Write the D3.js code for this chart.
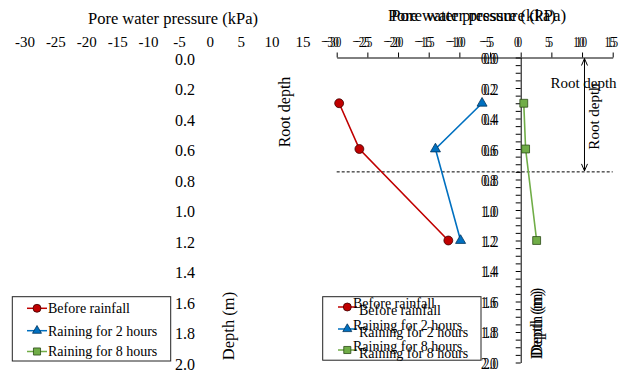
<!DOCTYPE html>
<html>
<head>
<meta charset="utf-8">
<script src="https://cdn.jsdelivr.net/npm/d3@7"></script>
<style>
  html, body { margin: 0; padding: 0; background: #fff; }
  svg { display: block; }
</style>
</head>
<body>
<svg id="chart" width="629" height="371" font-family="'Liberation Serif', 'Times New Roman', 'DejaVu Serif', serif"></svg>
<script>
// ---- data ----
const depths = [0.3, 0.6, 1.2];                 // m
const beforeRainfall = [-29.6, -26.3, -11.8];   // kPa
const raining2h = [-6.3, -13.9, -9.8];          // kPa
const raining8h = [0.5, 0.8, 2.6];              // kPa
const seriesNames = ["Before rainfall", "Raining for 2 hours", "Raining for 8 hours"];
const xTickValues = [-30, -25, -20, -15, -10, -5, 0, 5, 10, 15];
const xTickLabels = ["-30", "-25", "-20", "-15", "-10", "-5", "0", "5", "10", "15"];
const yTickValues = [0, 0.2, 0.4, 0.6, 0.8, 1.0, 1.2, 1.4, 1.6, 1.8, 2.0];
const yTickLabels = ["0.0", "0.2", "0.4", "0.6", "0.8", "1.0", "1.2", "1.4", "1.6", "1.8", "2.0"];
const rootDepth = 0.75;      // m
const rootArrowX = 10.4;     // kPa, position of the root-depth arrow
const xTitle = "Pore water pressure (kPa)";
const yTitle = "Depth (m)";
const rootLabel = "Root depth";

const FONT = "'Liberation Serif', 'Times New Roman', 'DejaVu Serif', serif";

const series = [
  { name: seriesNames[0], values: beforeRainfall, color: "#C00000", stroke: "#3d0000", shape: "circle" },
  { name: seriesNames[1], values: raining2h, color: "#0070C0", stroke: "#00325a", shape: "triangle" },
  { name: seriesNames[2], values: raining8h, color: "#70AD47", stroke: "#2b4a17", shape: "square" }
];

const svg = d3.select("#chart");

// ---- plot scales ----
const x = d3.scaleLinear().domain([-30, 15]).range([336.7, 612.7]);
const y = d3.scaleLinear().domain([0, 2]).range([57.5, 362.5]);

// label scales used by the annotation layers
const xLabLeft = d3.scaleLinear().domain([-30, 15]).range([25, 303]);
const yLabLeft = d3.scaleLinear().domain([0, 2]).range([59.3, 364]);
const xLabRight = d3.scaleLinear().domain([-30, 15]).range([330, 610]);
const yLabRight = d3.scaleLinear().domain([0, 2]).range([58.5, 363]);

function markerPath(shape, size) {
  if (shape === "circle") return d3.symbol(d3.symbolCircle, size)();
  if (shape === "triangle") return d3.symbol(d3.symbolTriangle, size * 0.7)();
  return d3.symbol(d3.symbolSquare, size)();
}

function txt(g) {
  return g.append("text").attr("font-family", FONT).attr("fill", "#000");
}

// ---- left annotation layer ----
const left = svg.append("g");
txt(left).attr("x", 173).attr("y", 18).attr("dy", "0.35em")
  .attr("text-anchor", "middle").attr("font-size", 16.5).text(xTitle);
left.selectAll(".xl").data(xTickValues).join("text")
  .attr("font-family", FONT)
  .attr("x", d => xLabLeft(d)).attr("y", 42).attr("dy", "0.35em")
  .attr("text-anchor", "middle").attr("font-size", 15)
  .text((d, i) => xTickLabels[i]);
left.selectAll(".yl").data(yTickValues).join("text")
  .attr("font-family", FONT)
  .attr("x", 185).attr("y", d => yLabLeft(d)).attr("dy", "0.35em")
  .attr("text-anchor", "middle").attr("font-size", 16)
  .text((d, i) => yTickLabels[i]);
txt(left).attr("transform", "translate(228,326) rotate(-90)").attr("dy", "0.35em")
  .attr("text-anchor", "middle").attr("font-size", 16.5).text(yTitle);
txt(left).attr("transform", "translate(284,112) rotate(-90)").attr("dy", "0.35em")
  .attr("text-anchor", "middle").attr("font-size", 16).text(rootLabel);

// legend
function legend(g, box, rowYs, lineX0, lineX1, markX, textCopies) {
  g.append("rect").attr("x", box[0]).attr("y", box[1]).attr("width", box[2]).attr("height", box[3])
    .attr("fill", "none").attr("stroke", "#222").attr("stroke-width", 1);
  series.forEach((s, i) => {
    const ry = rowYs[i];
    g.append("line").attr("x1", lineX0).attr("x2", lineX1).attr("y1", ry).attr("y2", ry)
      .attr("stroke", s.color).attr("stroke-width", 1.5);
    g.append("path").attr("d", markerPath(s.shape, 50))
      .attr("transform", `translate(${markX},${ry})`)
      .attr("fill", s.color).attr("stroke", s.stroke).attr("stroke-width", 0.8);
    textCopies.forEach(c => {
      txt(g).attr("x", c.x).attr("y", ry + c.dy).attr("dy", "0.35em")
        .attr("font-size", c.size).text(s.name);
    });
  });
}
legend(left, [12.3, 296.7, 158.4, 64.3], [308.3, 330.7, 351.5], 27, 47, 37,
  [{ x: 48, dy: 0, size: 14 }]);

// ---- right plot ----
const plot = svg.append("g");

// top axis
const topAxis = plot.append("g").attr("transform", `translate(0,${y(0)})`)
  .call(d3.axisTop(x).tickValues(xTickValues).tickSize(5).tickSizeOuter(0).tickFormat(""));
topAxis.selectAll("path, line").attr("stroke", "#000");

// vertical axis at zero pressure with ticks every 0.05 m
const yMinor = d3.range(0, 2.0001, 0.05);
const vAxis = plot.append("g").attr("transform", `translate(${x(0)},0)`)
  .call(d3.axisLeft(y).tickValues(yMinor).tickSize(5).tickSizeOuter(0).tickFormat(""));
vAxis.selectAll("path, line").attr("stroke", "#000");

// root depth dashed line
plot.append("line")
  .attr("x1", x(-30)).attr("x2", x(15)).attr("y1", y(rootDepth)).attr("y2", y(rootDepth))
  .attr("stroke", "#000").attr("stroke-width", 1).attr("stroke-dasharray", "3,2");

// double arrow for root depth
const ax = x(rootArrowX), ay0 = y(0) + 1, ay1 = y(rootDepth) - 1;
plot.append("line").attr("x1", ax).attr("x2", ax).attr("y1", ay0).attr("y2", ay1)
  .attr("stroke", "#000").attr("stroke-width", 1);
plot.append("path")
  .attr("d", `M${ax - 3},${ay0 + 7}L${ax},${ay0}L${ax + 3},${ay0 + 7}M${ax - 3},${ay1 - 7}L${ax},${ay1}L${ax + 3},${ay1 - 7}`)
  .attr("fill", "none").attr("stroke", "#000").attr("stroke-width", 1);

// series lines and markers
const lineGen = d3.line().x(d => x(d[0])).y(d => y(d[1]));
series.forEach(s => {
  const pts = s.values.map((v, i) => [v, depths[i]]);
  plot.append("path").attr("d", lineGen(pts)).attr("fill", "none")
    .attr("stroke", s.color).attr("stroke-width", 1.6);
  plot.selectAll(null).data(pts).join("path")
    .attr("d", markerPath(s.shape, 62))
    .attr("transform", d => `translate(${x(d[0])},${y(d[1])})`)
    .attr("fill", s.color).attr("stroke", s.stroke).attr("stroke-width", 0.8);
});

// root depth labels on the plot
txt(plot).attr("x", 583.5).attr("y", 83).attr("dy", "0.35em")
  .attr("text-anchor", "middle").attr("font-size", 15).text(rootLabel);
txt(plot).attr("transform", "translate(593.5,116.5) rotate(-90)").attr("dy", "0.35em")
  .attr("text-anchor", "middle").attr("font-size", 15).text(rootLabel);

// ---- right annotation layer (two overlaid copies) ----
const right = svg.append("g");
[{ x: 388, size: 16.3 }, { x: 391, size: 17.0 }].forEach(c => {
  txt(right).attr("x", c.x).attr("y", 15).attr("dy", "0.35em")
    .attr("font-size", c.size).text(xTitle);
});
[0, 2.5].forEach(off => {
  right.selectAll(null).data(xTickValues).join("text")
    .attr("font-family", FONT)
    .attr("transform", d => `translate(${xLabRight(d) + off},42) scale(0.72,1)`)
    .attr("dy", "0.35em").attr("text-anchor", "middle").attr("font-size", 15.5)
    .text((d, i) => xTickLabels[i].replace("-", "\u2212"));
  right.selectAll(null).data(yTickValues).join("text")
    .attr("font-family", FONT)
    .attr("transform", d => `translate(${488.5 + off},${yLabRight(d)}) scale(0.72,1)`)
    .attr("dy", "0.35em").attr("text-anchor", "middle").attr("font-size", 16.5)
    .text((d, i) => yTickLabels[i]);
});
[0, 3].forEach(off => {
  txt(right).attr("transform", `translate(536,${325 - off}) rotate(-90)`).attr("dy", "0.35em")
    .attr("text-anchor", "middle").attr("font-size", 16.5).text(yTitle);
});
legend(right, [322.7, 296.7, 158.3, 63.5], [307, 329, 350], 338, 357, 347.3,
  [{ x: 353, dy: -4, size: 14 }, { x: 359, dy: 3.5, size: 14 }]);
</script>
</body>
</html>
